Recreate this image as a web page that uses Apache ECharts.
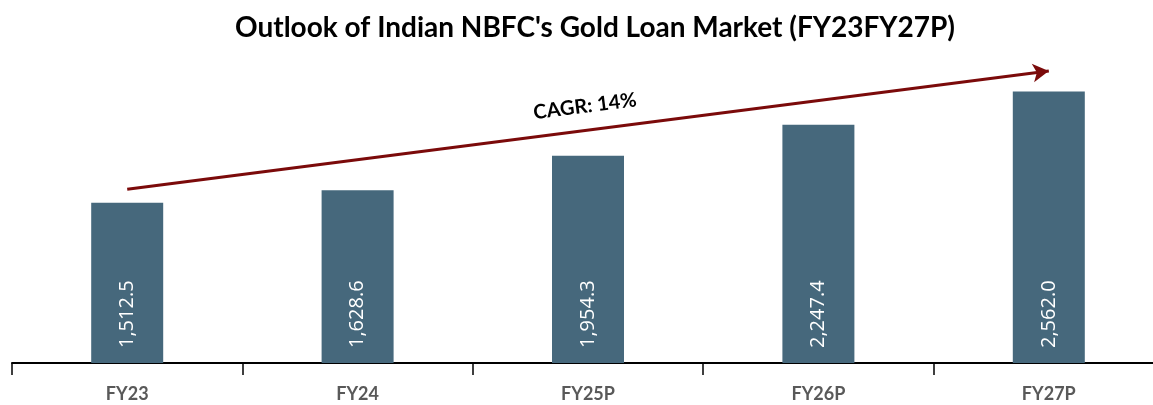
<!DOCTYPE html>
<html>
<head>
<meta charset="utf-8">
<script src="https://cdn.jsdelivr.net/npm/echarts@6/dist/echarts.min.js"></script>
<style>
  html, body { margin: 0; padding: 0; background: #fff; }
  #chart { width: 1153px; height: 405px; }
</style>
</head>
<body>
<div id="chart"></div>
<script>
const categories = ['FY23', 'FY24', 'FY25P', 'FY26P', 'FY27P']
const marketSize = [1512.5, 1628.6, 1954.3, 2247.4, 2562.0]
const cagrLabel = 'CAGR: 14%'
const cagrStart = ['FY23', 1640]
const cagrEnd = ['FY27P', 2755]

const chart = echarts.init(document.getElementById('chart'))

chart.setOption({
  animation: false,
  title: {
    text: "Outlook of Indian NBFC's Gold Loan Market (FY23FY27P)",
    left: 230,
    top: 9,
    textStyle: {
      fontFamily: 'Lato',
      fontWeight: 'bold',
      fontSize: 28,
      color: '#000'
    }
  },
  grid: {
    left: 12,
    width: 1152,
    top: 45,
    bottom: 42,
    containLabel: false,
    outerBoundsMode: 'none'
  },
  xAxis: {
    type: 'category',
    data: categories,
    axisLine: { lineStyle: { color: '#000', width: 2 } },
    axisTick: { show: true, interval: 0, length: 12, lineStyle: { color: '#000', width: 1.5 } },
    axisLabel: {
      margin: 22,
      fontFamily: 'Lato',
      fontWeight: 'bold',
      fontSize: 18,
      color: '#595959'
    }
  },
  yAxis: {
    type: 'value',
    min: 0,
    max: 3000,
    show: false,
    splitLine: { show: false }
  },
  series: [{
    type: 'bar',
    data: marketSize,
    barWidth: 72,
    itemStyle: { color: '#46687c' },
    label: {
      show: true,
      position: 'insideBottom',
      rotate: 90,
      align: 'left',
      verticalAlign: 'middle',
      distance: 15,
      color: '#fff',
      fontFamily: 'Open Sans',
      fontSize: 20,
      formatter: p => p.value.toLocaleString('en-US', { minimumFractionDigits: 1, maximumFractionDigits: 1 })
    },
    markLine: {
      silent: true,
      symbol: ['none', 'arrow'],
      symbolSize: [14, 16],
      lineStyle: { color: '#7b0a0a', width: 3, type: 'solid' },
      label: {
        show: true,
        position: 'middle',
        distance: 14,
        formatter: cagrLabel,
        fontFamily: 'Lato',
        fontWeight: 'bold',
        fontSize: 20,
        color: '#000'
      },
      data: [[{ coord: cagrStart }, { coord: cagrEnd }]]
    }
  }]
})
</script>
</body>
</html>
